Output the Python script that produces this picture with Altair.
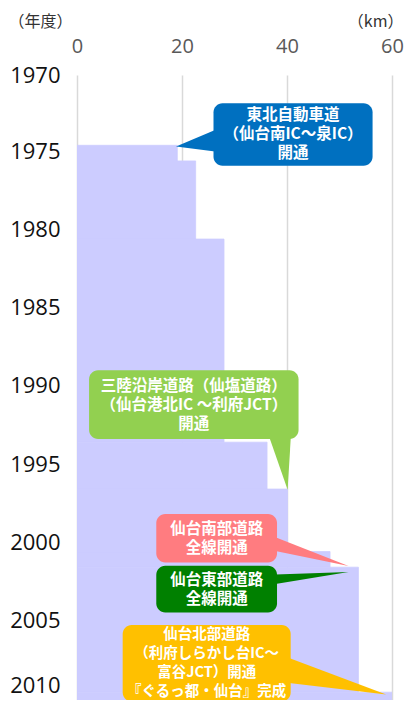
import altair as alt
import pandas as pd

# ---- values ----
# cumulative opened length (km) of the Sendai loop expressways, by fiscal year
seg_start = [1975, 1976, 1981, 1994, 1997, 2001, 2002, 2010]
seg_end = [1976, 1981, 1994, 1997, 2001, 2002, 2010, 2011]
seg_km = [19.1, 22.6, 28.0, 36.2, 40.1, 48.2, 53.6, 60.0]

year_labels = [1970, 1975, 1980, 1985, 1990, 1995, 2000, 2005, 2010]
km_ticks = [0, 20, 40, 60]

note_lines = [
    ["東北自動車道", "（仙台南IC～泉IC）", "開通"],
    ["三陸沿岸道路（仙塩道路）", "（仙台港北IC ～利府JCT）", "開通"],
    ["仙台南部道路", "全線開通"],
    ["仙台東部道路", "全線開通"],
    ["仙台北部道路", "（利府しらかし台IC～", "富谷JCT）開通", "『ぐるっ都・仙台』完成"],
]
note_color = ["#0070C0", "#92D050", "#FF7C80", "#008000", "#FFC000"]
# callout boxes in data units (km, fiscal year)
note_x1 = [26.0, 2.3, 15.1, 15.1, 8.7]
note_x2 = [56.3, 42.2, 38.1, 38.1, 40.7]
note_y1 = [1972.3, 1989.4, 1998.6, 2001.9, 2005.7]
note_y2 = [1976.3, 1993.8, 2001.7, 2004.9, 2010.6]

# callout pointers (triangles) in data units
# sideways pointers: at km -> year range
ptr_id = [0, 0, 2, 2, 3, 3, 4, 4]
ptr_km = [26.3, 18.86, 37.8, 51.72, 37.8, 51.72, 40.4, 58.9]
ptr_ya = [1974.02, 1975.07, 2000.09, 2001.93, 2002.46, 2002.31, 2007.81, 2010.14]
ptr_yb = [1975.40, 1975.07, 2000.96, 2001.93, 2003.08, 2002.31, 2009.41, 2010.14]
# downward pointer: at year -> km range
dptr_year = [1993.6, 1997.04]
dptr_ka = [36.55, 40.12]
dptr_kb = [40.74, 40.12]

# ---- layout ----
PLOT_W, PLOT_H = 315, 625
Y0, Y1 = 1970.5, 2010.5
PX_PER_YEAR = PLOT_H / (Y1 - Y0)
LINE_H = 19  # px between text lines
PAD = {"left": 69, "top": 67, "right": 12, "bottom": 0}

# ---- tables ----
bars_df = pd.DataFrame({"x0": [0] * len(seg_km), "km": seg_km,
                        "start": seg_start, "end": seg_end})
notes_df = pd.DataFrame({"color": note_color, "x1": note_x1, "x2": note_x2,
                         "y1": note_y1, "y2": note_y2})
rows = []
for i, lines in enumerate(note_lines):
    xm = (note_x1[i] + note_x2[i]) / 2
    ym = (note_y1[i] + note_y2[i]) / 2
    n = len(lines)
    rows.append({"note": i, "text": "\n".join(lines), "xm": xm,
                 "ytop": ym - (n - 1) / 2 * LINE_H / PX_PER_YEAR})
text_df = pd.DataFrame(rows)
ptr_df = pd.DataFrame({"id": ptr_id, "km": ptr_km, "ya": ptr_ya, "yb": ptr_yb})
ptr_df["color"] = [note_color[i] for i in ptr_id]
dptr_df = pd.DataFrame({"year": dptr_year, "ka": dptr_ka, "kb": dptr_kb,
                        "color": [note_color[1]] * 2})

xscale = alt.Scale(domain=[0, 60], nice=False, zero=False)
yscale = alt.Scale(domain=[Y0, Y1], reverse=True, nice=False, zero=False)

x_axis = alt.Axis(
    orient="top", values=km_ticks, grid=True, gridColor="#D9D9D9", gridWidth=1.5,
    domain=False, ticks=False, labelFont="Open Sans", labelFontSize=20,
    labelColor="#595959", labelPadding=23, labelBaseline="alphabetic",
    labelFlush=False, title="（km）", titleAngle=0, titleAlign="right",
    titleBaseline="middle", titleX=PLOT_W + PAD["right"] - 1, titleY=-54,
    titleFont="Noto Sans CJK JP",
    titleFontSize=16, titleFontWeight="normal", titleColor="#333333",
)
label_pos = [Y0] + [y + 0.4 for y in year_labels[1:-1]] + [year_labels[-1] - 0.45]
y_axis = alt.Axis(
    values=label_pos,
    labelExpr="round(datum.value - 0.01)",
    grid=False, domain=False, ticks=False, labelFont="Open Sans", labelFontSize=22,
    labelColor="#111111", labelPadding=17, labelBaseline="middle",
    labelOverlap=False, title="（年度）", titleAngle=0, titleAlign="left",
    titleBaseline="middle", titleX=-PAD["left"], titleY=-54,
    titleFont="Noto Sans CJK JP",
    titleFontSize=16, titleFontWeight="normal", titleColor="#333333",
)

bars = alt.Chart(bars_df).mark_rect(
    color="#CCCCFF", stroke="#CCCCFF", strokeWidth=0.8, clip=True
).encode(
    x=alt.X("x0:Q", scale=xscale, axis=x_axis),
    x2="km:Q",
    y=alt.Y("start:Q", scale=yscale, axis=y_axis),
    y2="end:Q",
)

pointers = alt.Chart(ptr_df).mark_area(orient="vertical", clip=True).encode(
    x=alt.X("km:Q", scale=xscale, axis=x_axis),
    y=alt.Y("ya:Q", scale=yscale, axis=y_axis, stack=None),
    y2="yb:Q",
    color=alt.Color("color:N", scale=None),
    detail="id:N",
)

down_ptr = alt.Chart(dptr_df).mark_area(orient="horizontal", clip=True).encode(
    y=alt.Y("year:Q", scale=yscale, axis=y_axis),
    x=alt.X("ka:Q", scale=xscale, axis=x_axis, stack=None),
    x2="kb:Q",
    color=alt.Color("color:N", scale=None),
)

boxes = alt.Chart(notes_df).mark_rect(cornerRadius=9, clip=True).encode(
    x=alt.X("x1:Q", scale=xscale, axis=x_axis),
    x2="x2:Q",
    y=alt.Y("y1:Q", scale=yscale, axis=y_axis),
    y2="y2:Q",
    color=alt.Color("color:N", scale=None),
)


def note_text(size, cond):
    return alt.Chart(text_df).transform_filter(cond).mark_text(
        font="Noto Sans CJK JP", fontWeight="bold", fontSize=size, color="white",
        align="center", baseline="middle", lineBreak="\n", lineHeight=LINE_H,
    ).encode(
        x=alt.X("xm:Q", scale=xscale, axis=x_axis),
        y=alt.Y("ytop:Q", scale=yscale, axis=y_axis),
        text="text:N",
    )


labels_main = note_text(15.5, "datum.note < 4")
labels_north = note_text(14.5, "datum.note == 4")

chart = alt.layer(bars, pointers, down_ptr, boxes, labels_main, labels_north).properties(
    width=PLOT_W, height=PLOT_H,
    autosize=alt.AutoSizeParams(type="none"),
    padding=PAD,
).configure_view(stroke=None)

chart.save("out.html", embed_options={"renderer": "svg", "actions": False})
